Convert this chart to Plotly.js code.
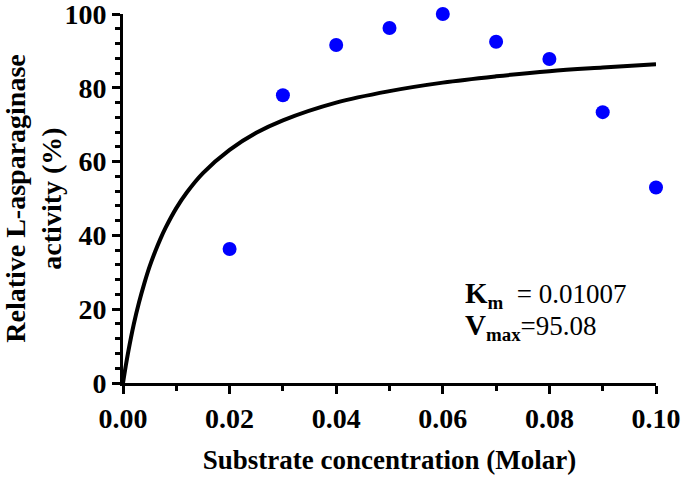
<!DOCTYPE html>
<html>
<head>
<meta charset="utf-8">
<script src="https://cdn.plot.ly/plotly-3.0.1.min.js"></script>
<style>html,body{margin:0;padding:0;background:#fff;}#chart{width:697px;height:481px;}</style>
</head>
<body>
<div id="chart"></div>
<script>
// Observed data (substrate concentration, relative activity)
const substrateConc = [0.02, 0.03, 0.04, 0.05, 0.06, 0.07, 0.08, 0.09, 0.10];
const relActivity = [36.3, 78.0, 91.6, 96.2, 100.0, 92.5, 87.8, 73.4, 53.0];

// Fitted Michaelis-Menten curve
const fitX = [0, 0.0005, 0.001, 0.002, 0.003, 0.004, 0.005, 0.006, 0.007, 0.008, 0.010, 0.012, 0.015, 0.020, 0.025, 0.030, 0.040, 0.050, 0.060, 0.070, 0.080, 0.090, 0.100];
const fitY = [0, 4.5, 8.6, 15.8, 21.8, 27.0, 31.6, 35.5, 39.0, 42.1, 47.4, 51.7, 56.9, 63.2, 67.8, 71.2, 76.0, 79.1, 81.4, 83.1, 84.5, 85.5, 86.4];

const xTickVals = [0, 0.02, 0.04, 0.06, 0.08, 0.10];
const xTickText = ["0.00", "0.02", "0.04", "0.06", "0.08", "0.10"];
const yTickVals = [0, 20, 40, 60, 80, 100];
const yTickText = ["0", "20", "40", "60", "80", "100"];

const serif = "Liberation Serif, Times New Roman, serif";

const traces = [
  {
    x: fitX, y: fitY, type: "scatter", mode: "lines",
    line: {color: "#000000", width: 4, shape: "spline"},
    hoverinfo: "skip", showlegend: false, cliponaxis: false
  },
  {
    x: substrateConc, y: relActivity, type: "scatter", mode: "markers",
    marker: {color: "#0000FF", size: 14, symbol: "circle"},
    showlegend: false, cliponaxis: false
  }
];

const axisCommon = {
  showline: true, linecolor: "#000", linewidth: 3,
  ticks: "outside", ticklen: 8, tickwidth: 3, tickcolor: "#000",
  showgrid: false, zeroline: false,
  ticklabeloverflow: "allow",
  tickfont: {family: serif, size: 28, color: "#000", weight: "bold"},
  fixedrange: true
};

const layout = {
  width: 697, height: 481,
  margin: {l: 123, r: 41, t: 14, b: 98},
  paper_bgcolor: "#fff", plot_bgcolor: "#fff",
  font: {family: serif, color: "#000"},
  xaxis: Object.assign({}, axisCommon, {
    range: [0, 0.1],
    tickvals: xTickVals, ticktext: xTickText,
    ticklabelstandoff: 0,
    minor: {dtick: 0.01, tick0: 0, ticks: "outside", ticklen: 5, tickwidth: 3, tickcolor: "#000"},
    title: {text: "<b>Substrate concentration (Molar)</b>", font: {family: serif, size: 27, color: "#000"}, standoff: 18}
  }),
  yaxis: Object.assign({}, axisCommon, {
    range: [0, 100],
    tickvals: yTickVals, ticktext: yTickText,
    minor: {dtick: 4, tick0: 0, ticks: "outside", ticklen: 5, tickwidth: 3, tickcolor: "#000"},
    title: {text: "<b>Relative L-asparaginase<br>activity (%)</b>", font: {family: serif, size: 28, color: "#000"}, standoff: 8}
  }),
  annotations: [
    {
      xref: "paper", yref: "paper", x: 0.637, y: 0.293,
      xanchor: "left", yanchor: "top", align: "left", showarrow: false,
      text: "<b><span style='font-size:29px'>K</span><sub>m</sub></b>&nbsp;&nbsp;= 0.01007",
      font: {family: serif, size: 27, color: "#000"}
    },
    {
      xref: "paper", yref: "paper", x: 0.637, y: 0.205,
      xanchor: "left", yanchor: "top", align: "left", showarrow: false,
      text: "<b><span style='font-size:29px'>V</span><sub>max</sub></b>=95.08",
      font: {family: serif, size: 27, color: "#000"}
    }
  ]
};

Plotly.newPlot("chart", traces, layout, {displayModeBar: false, staticPlot: true});
</script>
</body>
</html>
